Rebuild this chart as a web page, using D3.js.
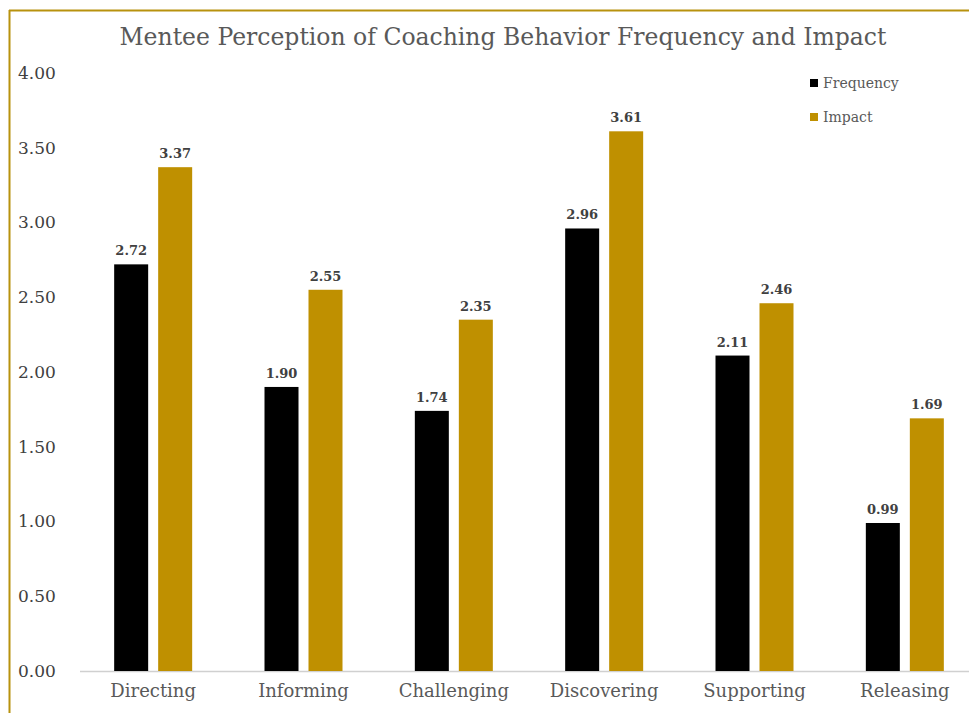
<!DOCTYPE html>
<html>
<head>
<meta charset="utf-8">
<script src="https://cdn.jsdelivr.net/npm/d3@7/dist/d3.min.js"></script>
<style>
  html, body { margin: 0; padding: 0; background: #fff; }
  svg { display: block; }
  text { font-family: "DejaVu Serif", Georgia, serif; }
</style>
</head>
<body>
<svg id="chart" width="969" height="713"></svg>
<script>
// Coaching behaviours and mentee ratings
const categories = ["Directing", "Informing", "Challenging", "Discovering", "Supporting", "Releasing"];
const frequency = [2.72, 1.90, 1.74, 2.96, 2.11, 0.99];
const impact = [3.37, 2.55, 2.35, 3.61, 2.46, 1.69];
const seriesNames = ["Frequency", "Impact"];
const seriesColors = ["#000000", "#BF9000"];
const yTicks = [0, 0.5, 1, 1.5, 2, 2.5, 3, 3.5, 4];
const title = "Mentee Perception of Coaching Behavior Frequency and Impact";

const svg = d3.select("#chart");
const W = 969, H = 713;

// chart frame (top and left edges visible)
svg.append("line").attr("x1", 9).attr("x2", W).attr("y1", 10.5).attr("y2", 10.5)
  .attr("stroke", "#B8920E").attr("stroke-width", 2);
svg.append("line").attr("x1", 9.5).attr("x2", 9.5).attr("y1", 10).attr("y2", H)
  .attr("stroke", "#B8920E").attr("stroke-width", 2);

const x0 = d3.scaleBand().domain(categories).range([78, 980]).paddingInner(0).paddingOuter(0);
const y = d3.scaleLinear().domain([0, 4]).range([671, 73]);

// series layout inside each category
const barW = 34, gap = 10;
const x1 = d3.scaleOrdinal().domain(seriesNames).range([-(barW + gap) / 2, (barW + gap) / 2]);

svg.append("text")
  .attr("x", 503).attr("y", 45)
  .attr("text-anchor", "middle")
  .attr("font-size", 23.5)
  .attr("fill", "#595959")
  .text(title);

// y axis labels (no axis line)
const yAxis = d3.axisLeft(y).tickValues(yTicks).tickSize(0).tickFormat(d3.format(".2f"));
const yg = svg.append("g").attr("transform", "translate(18,0)").call(yAxis);
yg.select(".domain").remove();
yg.selectAll("text").attr("font-size", 17).attr("fill", "#404040")
  .attr("font-family", "'DejaVu Serif', serif").attr("text-anchor", "start")
  .attr("x", 0).attr("dy", "0.32em");

// baseline
svg.append("line").attr("x1", 80).attr("x2", W).attr("y1", y(0) + 0.5).attr("y2", y(0) + 0.5)
  .attr("stroke", "#D0D0D0").attr("stroke-width", 1.5);

const data = categories.map((c, i) => ({ cat: c, values: [
  { s: seriesNames[0], v: frequency[i] },
  { s: seriesNames[1], v: impact[i] }
]}));

const groups = svg.append("g").selectAll("g").data(data).join("g")
  .attr("transform", d => `translate(${x0(d.cat) + x0.bandwidth() / 2},0)`);

groups.selectAll("rect").data(d => d.values).join("rect")
  .attr("x", d => x1(d.s) - barW / 2)
  .attr("width", barW)
  .attr("y", d => y(d.v))
  .attr("height", d => y(0) - y(d.v))
  .attr("fill", (d, i) => seriesColors[i]);

groups.selectAll("text.val").data(d => d.values).join("text")
  .attr("class", "val")
  .attr("x", d => x1(d.s))
  .attr("y", d => y(d.v) - 9)
  .attr("text-anchor", "middle")
  .attr("font-size", 13)
  .attr("font-weight", "bold")
  .attr("fill", "#404040")
  .text(d => d.v.toFixed(2));

// category labels
const xAxis = d3.axisBottom(x0).tickSize(0);
const xg = svg.append("g").attr("transform", `translate(0,${y(0)})`).call(xAxis);
xg.select(".domain").remove();
xg.selectAll("text").attr("font-size", 18).attr("fill", "#595959")
  .attr("font-family", "'DejaVu Serif', serif").attr("dy", "1.3em");

// legend
const legend = svg.append("g").selectAll("g").data(seriesNames).join("g")
  .attr("transform", (d, i) => `translate(810,${83 + i * 34})`);
legend.append("rect").attr("x", 0).attr("y", -4).attr("width", 8).attr("height", 8)
  .attr("fill", (d, i) => seriesColors[i]);
legend.append("text").attr("x", 13).attr("y", 0).attr("dy", "0.35em")
  .attr("font-size", 14).attr("fill", "#595959").text(d => d);
</script>
</body>
</html>
